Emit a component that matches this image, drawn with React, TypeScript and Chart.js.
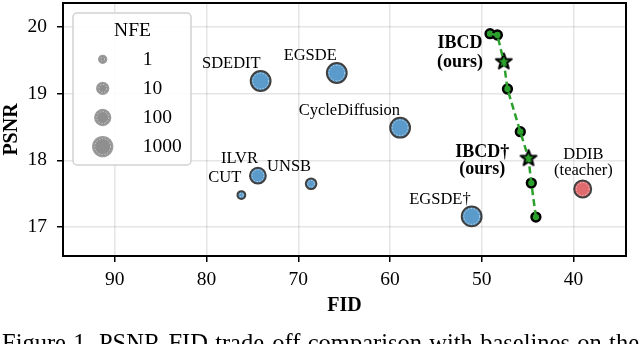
import React, { useEffect, useRef } from 'react';
import { Chart, registerables } from 'chart.js';

Chart.register(...registerables);

// ---------------- data ----------------
const baselineNames = ['SDEDIT', 'EGSDE', 'CycleDiffusion', 'ILVR', 'UNSB', 'CUT', 'EGSDE†'];
const baselineFID = [74.1, 65.8, 58.9, 74.4, 68.6, 76.2, 51.1];
const baselinePSNR = [19.19, 19.31, 18.49, 17.77, 17.65, 17.48, 17.16];
const baselineNFE = [1000, 1000, 1000, 100, 5, 1, 1000];

const teacherNames = ['DDIB\n(teacher)'];
const teacherFID = [39.0];
const teacherPSNR = [17.57];
const teacherNFE = [200];

const oursFID = [49.1, 48.3, 47.6, 47.2, 45.8, 44.9, 44.6, 44.1];
const oursPSNR = [19.9, 19.88, 19.48, 19.07, 18.43, 18.03, 17.66, 17.15];
const oursMarker = ['circle', 'circle', 'star', 'circle', 'circle', 'star', 'circle', 'circle'];
const oursLabels = ['', '', 'IBCD\n(ours)', '', '', 'IBCD†\n(ours)', '', ''];

const nfeLegendLevels = [1, 10, 100, 1000];
const legendTitle = 'NFE';
const xAxisTitle = 'FID';
const yAxisTitle = 'PSNR';
const caption = 'Figure 1. PSNR-FID trade-off comparison with baselines on the';
const xRange = [34.28, 95.64];
const yRange = [16.566, 20.36];

// ---------------- styles ----------------
const FONT = '"Liberation Serif", "Times New Roman", serif';
const BLUE = '#5b9bcb';
const RED = '#e06b6e';
const GREEN = '#2ca02c';
const EDGE = '#404040';
const LEGEND_GRAY = '#8f8f8f';

type Placement = { align: CanvasTextAlign; dx: number; dy: number; lineGap?: number; bold?: boolean };
const defaultPlacement: Placement = { align: 'right', dx: 0, dy: -13 };
const labelPlacement: Record<string, Placement> = {
  'EGSDE†': { align: 'right', dx: -1, dy: -12.5 },
  'DDIB\n(teacher)': { align: 'center', dx: 0.7, dy: -30.4, lineGap: 16.7 },
  'IBCD\n(ours)': { align: 'center', dx: -43.8, dy: -13.2, lineGap: 18.4, bold: true },
  'IBCD†\n(ours)': { align: 'center', dx: -46.2, dy: -1.3, lineGap: 17.3, bold: true },
};

const nfeRadius = (n: number) => 3.9 + 2 * Math.log10(n);

function makeStar(): HTMLCanvasElement {
  const c = document.createElement('canvas');
  c.width = 22;
  c.height = 22;
  const g = c.getContext('2d')!;
  g.translate(11, 11);
  g.beginPath();
  for (let i = 0; i < 10; i++) {
    const r = i % 2 === 0 ? 8.3 : 3.5;
    const a = -Math.PI / 2 + (i * Math.PI) / 5;
    g.lineTo(r * Math.cos(a), r * Math.sin(a));
  }
  g.closePath();
  g.fillStyle = GREEN;
  g.fill();
  g.lineWidth = 2;
  g.lineJoin = 'round';
  g.strokeStyle = '#000';
  g.stroke();
  return c;
}

function dashedRing(ctx: CanvasRenderingContext2D, x: number, y: number, r: number) {
  if (r < 3) return;
  ctx.save();
  ctx.beginPath();
  ctx.arc(x, y, r - 2, 0, Math.PI * 2);
  ctx.setLineDash([1.5, 1.5]);
  ctx.lineWidth = 0.8;
  ctx.strokeStyle = 'rgba(255,255,255,0.65)';
  ctx.stroke();
  ctx.restore();
}

const overlayPlugin = {
  id: 'overlay',
  beforeDatasetsDraw(chart: any) {
    const { ctx, chartArea: a } = chart;
    ctx.save();
    ctx.strokeStyle = '#000';
    ctx.lineWidth = 2;
    ctx.strokeRect(a.left, a.top, a.right - a.left, a.bottom - a.top);
    ctx.restore();
  },
  afterDatasetsDraw(chart: any) {
    const ctx: CanvasRenderingContext2D = chart.ctx;

    // dashed inner rings on baseline / teacher markers
    [2, 3].forEach((di) => {
      const meta = chart.getDatasetMeta(di);
      meta.data.forEach((el: any) => dashedRing(ctx, el.x, el.y, el.options.radius));
    });

    // point annotations
    const drawLabel = (text: string, x: number, y: number) => {
      if (!text) return;
      const p = labelPlacement[text] || defaultPlacement;
      ctx.save();
      ctx.fillStyle = '#000';
      ctx.textAlign = p.align;
      ctx.textBaseline = 'alphabetic';
      ctx.font = p.bold ? `bold 18px ${FONT}` : `16.5px ${FONT}`;
      text.split('\n').forEach((line, i) => {
        ctx.fillText(line, x + p.dx, y + p.dy + i * (p.lineGap || 0));
      });
      ctx.restore();
    };
    chart.getDatasetMeta(2).data.forEach((el: any, i: number) => drawLabel(baselineNames[i], el.x, el.y));
    chart.getDatasetMeta(3).data.forEach((el: any, i: number) => drawLabel(teacherNames[i], el.x, el.y));
    chart.getDatasetMeta(1).data.forEach((el: any, i: number) => drawLabel(oursLabels[i], el.x, el.y));

    // size legend
    ctx.save();
    const lx = 73, ly = 13, lw = 118, lh = 152;
    ctx.beginPath();
    (ctx as any).roundRect(lx, ly, lw, lh, 4);
    ctx.fillStyle = 'rgba(255,255,255,0.9)';
    ctx.fill();
    ctx.strokeStyle = '#d2d2d2';
    ctx.lineWidth = 1.5;
    ctx.stroke();
    ctx.fillStyle = '#000';
    ctx.font = `19.5px ${FONT}`;
    ctx.textAlign = 'center';
    ctx.textBaseline = 'alphabetic';
    ctx.fillText(legendTitle, 132.5, 36);
    nfeLegendLevels.forEach((n, i) => {
      const cy = 59.3 + i * 29.1;
      const r = nfeRadius(n);
      ctx.beginPath();
      ctx.arc(102.7, cy, r, 0, Math.PI * 2);
      ctx.fillStyle = LEGEND_GRAY;
      ctx.fill();
      ctx.lineWidth = 1.5;
      ctx.strokeStyle = '#9c9c9c';
      ctx.stroke();
      dashedRing(ctx, 102.7, cy, r);
      ctx.fillStyle = '#000';
      ctx.textAlign = 'left';
      ctx.fillText(String(n), 142.7, cy + 5.5);
    });
    ctx.restore();

    // caption (justified, cut at the bottom edge)
    ctx.save();
    ctx.font = `24.5px ${FONT}`;
    ctx.fillStyle = '#000';
    ctx.textAlign = 'left';
    ctx.textBaseline = 'alphabetic';
    const words = caption.split(' ');
    const widths = words.map((w) => ctx.measureText(w).width);
    const total = widths.reduce((s, w) => s + w, 0);
    const left = 2, right = 639;
    const gap = (right - left - total) / (words.length - 1);
    let x = left;
    words.forEach((w, i) => {
      ctx.fillText(w, x, 351.2);
      x += widths[i] + gap;
    });
    ctx.restore();
  },
};

export default function App() {
  const ref = useRef<HTMLCanvasElement>(null);
  useEffect(() => {
    const canvas = ref.current!;
    const star = makeStar();
    const chart = new Chart(canvas, {
      type: 'scatter',
      data: {
        datasets: [
          {
            label: 'IBCD line',
            data: oursFID.map((x, i) => ({ x, y: oursPSNR[i] })),
            showLine: true,
            borderColor: GREEN,
            borderWidth: 2.5,
            borderDash: [7, 4],
            pointRadius: 0,
            order: 0,
          } as any,
          {
            label: 'IBCD',
            data: oursFID.map((x, i) => ({ x, y: oursPSNR[i] })),
            pointStyle: oursMarker.map((m) => (m === 'star' ? star : 'circle')),
            pointRadius: 4.4,
            backgroundColor: GREEN,
            borderColor: '#000',
            borderWidth: 2.5,
            order: 1,
          } as any,
          {
            label: 'Baselines',
            data: baselineFID.map((x, i) => ({ x, y: baselinePSNR[i] })),
            pointRadius: baselineNFE.map(nfeRadius),
            backgroundColor: BLUE,
            borderColor: EDGE,
            borderWidth: 2,
            order: 2,
          },
          {
            label: 'Teacher',
            data: teacherFID.map((x, i) => ({ x, y: teacherPSNR[i] })),
            pointRadius: teacherNFE.map(nfeRadius),
            backgroundColor: RED,
            borderColor: EDGE,
            borderWidth: 2,
            order: 2,
          },
        ],
      },
      options: {
        responsive: false,
        animation: false,
        events: [],
        layout: { autoPadding: false, padding: { top: 3, right: 14, left: 0, bottom: 0 } },
        plugins: { legend: { display: false }, tooltip: { enabled: false } },
        scales: {
          x: {
            type: 'linear',
            reverse: true,
            min: xRange[0],
            max: xRange[1],
            afterFit: (s: any) => {
              s.height = 88;
              s.paddingLeft = 0;
              s.paddingRight = 0;
              s.paddingTop = 0;
              s.paddingBottom = 0;
            },
            ticks: {
              stepSize: 10,
              includeBounds: false,
              color: '#000',
              font: { family: FONT, size: 19.5 },
              padding: 6,
              maxRotation: 0,
            },
            grid: { color: 'rgba(0,0,0,0.1)', lineWidth: 1.5, tickColor: '#000', tickLength: 6, tickWidth: 1.5 },
            border: { display: false },
            title: {
              display: true,
              text: xAxisTitle,
              color: '#000',
              font: { family: FONT, size: 20, weight: 'bold' },
              padding: { top: 0, bottom: 26.5 },
            },
          },
          y: {
            type: 'linear',
            min: yRange[0],
            max: yRange[1],
            afterFit: (s: any) => {
              s.width = 63;
              s.paddingLeft = 0;
              s.paddingRight = 0;
              s.paddingTop = 0;
              s.paddingBottom = 0;
            },
            ticks: {
              stepSize: 1,
              includeBounds: false,
              color: '#000',
              font: { family: FONT, size: 19.5 },
              padding: 10,
            },
            grid: { color: 'rgba(0,0,0,0.1)', lineWidth: 1.5, tickColor: '#000', tickLength: 6, tickWidth: 1.5 },
            border: { display: false },
            title: {
              display: true,
              text: yAxisTitle,
              color: '#000',
              font: { family: FONT, size: 20, weight: 'bold' },
              padding: { top: 0, bottom: 0 },
            },
          },
        },
      } as any,
      plugins: [overlayPlugin],
    });
    return () => chart.destroy();
  }, []);
  return (
    <div style={{ position: 'fixed', left: 0, top: 0, width: 640, height: 344, background: '#fff', overflow: 'hidden' }}>
      <canvas ref={ref} width={640} height={344} style={{ display: 'block' }} />
    </div>
  );
}
